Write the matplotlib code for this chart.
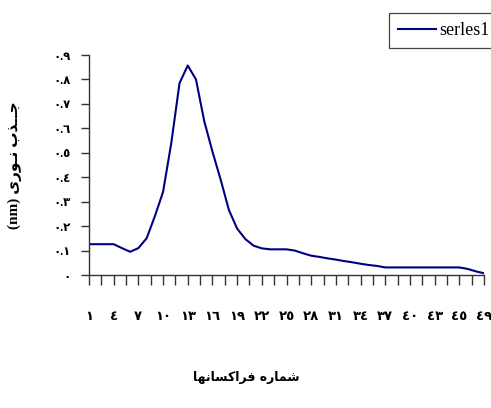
import numpy as np
import matplotlib
matplotlib.use("Agg")
import matplotlib.pyplot as plt

# data (49 fractions)
fractions = list(range(1, 50))
absorbance = [0.126, 0.126, 0.126, 0.126, 0.11, 0.095, 0.11, 0.15, 0.24, 0.34,
              0.54, 0.785, 0.857, 0.80, 0.63, 0.505, 0.39, 0.266, 0.19, 0.147,
              0.12, 0.109, 0.105, 0.105, 0.105, 0.10, 0.089, 0.079, 0.074, 0.068,
              0.063, 0.057, 0.052, 0.046, 0.041, 0.037, 0.031, 0.031, 0.031, 0.031,
              0.031, 0.031, 0.031, 0.031, 0.031, 0.031, 0.025, 0.015, 0.007]
series_name = "serles1"
x_tick_labels = ['١', '٤', '٧', '١٠', '١٣', '١٦', '١٩', '٢٢', '٢٥', '٢٨', '٣١',
                 '٣٤', '٣٧', '٤٠', '٤٣', '٤٥', '٤٩']
y_ticks = [0, 0.1, 0.2, 0.3, 0.4, 0.5, 0.6, 0.7, 0.8, 0.9]
y_tick_labels = ['٠', '٠.١', '٠.٢', '٠.٣', '٠.٤', '٠.٥', '٠.٦', '٠.٧', '٠.٨', '٠.٩']
# pre-shaped (visual order) Persian labels
y_label = "(nm) \uFEEF\uFEAD\uFEEE\u0640\uFEE7 \uFE8F\uFEAC\u0640\u0640\uFE9F"
x_label = "\uFE8E\uFEEC\uFEE7\uFE8E\uFEB4\uFEDB\uFE8D\uFEAE\uFED3 \uFEE9\uFEAD\uFE8E\uFEE4\uFEB7"

fam = ['Liberation Serif', 'DejaVu Sans']

fig = plt.figure(figsize=(4.91, 4.08), dpi=100)
W, H = 491, 408
ax = fig.add_axes([89 / W, 1 - 275 / H, (484 - 89) / W, (275 - 55) / H])

ax.plot(fractions, absorbance, color='#000080', lw=1.5, label=series_name)

ax.set_xlim(1, 49)
ax.set_ylim(0, 0.9)
for s in ['top', 'right']:
    ax.spines[s].set_visible(False)
for s in ['left', 'bottom']:
    ax.spines[s].set_color('#333333')
    ax.spines[s].set_linewidth(1.0)

xt = np.linspace(1, 49, 33)
labels = []
for i in range(33):
    labels.append(x_tick_labels[i // 2] if i % 2 == 0 else '')
ax.set_xticks(xt)
ax.set_xticklabels(labels, family=fam, fontweight='bold', fontsize=9.5)
ax.tick_params(axis='x', direction='out', length=7, width=1, color='#333333', pad=19)
ax.set_yticks(y_ticks)
ax.set_yticklabels(y_tick_labels, family=fam, fontweight='bold', fontsize=8.5)
ax.tick_params(axis='y', direction='out', length=6, width=1, color='#333333', pad=7)

ax.set_ylabel(y_label, family=fam, fontweight='bold', fontsize=11)
ax.yaxis.set_label_coords((22 - 89) / 395, 0.5)
ax.set_xlabel(x_label, family=['DejaVu Sans'], fontweight='bold', fontsize=9)
ax.xaxis.set_label_coords((246 - 89) / 395, (275 - 378) / 220)
ax.xaxis.label.set_va('center')

leg = fig.legend(loc='upper left', bbox_to_anchor=(389 / W, 1 - 13 / H),
                 bbox_transform=fig.transFigure, borderaxespad=0,
                 prop={'family': 'Liberation Serif', 'size': 13},
                 handlelength=2.1, handletextpad=0.2, borderpad=0.5,
                 fancybox=False, framealpha=1, edgecolor='#444444')
leg.get_frame().set_linewidth(0.9)

fig.savefig('out.png', dpi=100)
